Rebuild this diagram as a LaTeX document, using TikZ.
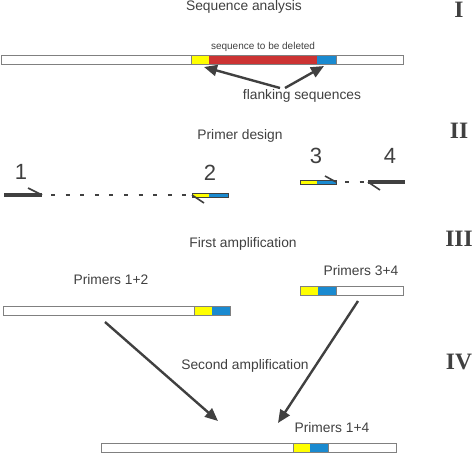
\documentclass[tikz,border=0pt]{standalone}
\usepackage{fontspec}
\setmainfont{Liberation Sans}
\newfontfamily\romfont{Liberation Serif}
\usetikzlibrary{arrows.meta}
\definecolor{ink}{HTML}{404040}
\definecolor{dnayel}{HTML}{FFFF00}
\definecolor{dnared}{HTML}{CC3333}
\definecolor{dnablue}{HTML}{1A8AD0}
\definecolor{rim}{HTML}{808080}
\tikzset{
  lbl/.style={text=ink,inner sep=0pt,anchor=base,font=\fontsize{13.8}{16}\selectfont},
  smalllbl/.style={text=ink,inner sep=0pt,anchor=base,font=\fontsize{10}{12}\selectfont},
  numlbl/.style={text=ink,inner sep=0pt,anchor=base,font=\fontsize{22}{24}\selectfont},
  romlbl/.style={text=ink,inner sep=0pt,anchor=base,font=\romfont\bfseries\fontsize{23.5}{26}\selectfont},
  strand/.style={draw=rim,line width=0.8pt,fill=white},
  seg/.style={draw=rim,line width=0.6pt},
  bigarrow/.style={draw=ink,line width=2.4pt,-{Triangle[length=13pt,width=11pt]}},
  primerline/.style={draw=ink,line width=3.5pt},
  halfhead/.style={draw=ink,line width=1.6pt},
  gap/.style={draw=ink,line width=2pt,dash pattern=on 4pt off 10.6pt}
}
\begin{document}
\begin{tikzpicture}[x=1pt,y=-1pt]
\useasboundingbox (0,0) rectangle (474,453);
% ---------- I ----------
\node[lbl] (t1) at (244,10) {Sequence analysis};
\node[romlbl] (r1) at (459,17) {I};
\node[smalllbl] (del) at (263,49) {sequence to be deleted};
\draw[strand] (1,55) rectangle (403,64);
\fill[dnayel] (191,55) rectangle (209,64);
\fill[dnared] (209,55) rectangle (317,64);
\fill[dnablue] (317,55) rectangle (336,64);
\draw[seg] (191,55) rectangle (336,64);
\coordinate (yel1) at (204,67);
\coordinate (blu1) at (324,66);
\node[lbl] (flank) at (302,99) {flanking sequences};
\coordinate (fa) at (280,88);
\coordinate (fb) at (285,88);
\draw[bigarrow] (fa) -- (yel1);
\draw[bigarrow] (fb) -- (blu1);
% ---------- II ----------
\node[lbl] (t2) at (240,139) {Primer design};
\node[romlbl] (r2) at (459,138) {II};
\node[numlbl] (n1) at (21,179) {1};
\node[numlbl] (n2) at (210,180) {2};
\node[numlbl] (n3) at (316,163) {3};
\node[numlbl] (n4) at (390,163) {4};
% primer 1
\coordinate (p1s) at (4,195);
\coordinate (p1e) at (42,195);
\coordinate (p1h) at (28,188);
\draw[primerline] (p1s) -- (p1e);
\draw[halfhead] (p1h) -- (p1e);
\coordinate (g1s) at (51,195);
\coordinate (g1e) at (190,195);
\draw[gap] (g1s) -- (g1e);
% primer 2
\fill[dnayel] (192,193) rectangle (209,197);
\fill[dnablue] (209,193) rectangle (228,197);
\draw[draw=ink,line width=0.6pt] (192,193) rectangle (228,197);
\coordinate (p2e) at (192,195);
\coordinate (p2h) at (204,203);
\draw[halfhead] (p2e) -- (p2h);
% primer 3
\fill[dnayel] (300,180.5) rectangle (317,184);
\fill[dnablue] (317,180.5) rectangle (336,184);
\draw[draw=ink,line width=0.6pt] (300,180.5) rectangle (336,184);
\coordinate (p3h) at (325,176);
\coordinate (p3e) at (336,182);
\draw[halfhead] (p3h) -- (p3e);
\coordinate (g2s) at (345,182);
\coordinate (g2e) at (366,182);
\draw[gap] (g2s) -- (g2e);
% primer 4
\coordinate (p4s) at (368,182);
\coordinate (p4e) at (405,182);
\coordinate (p4h) at (380,190);
\draw[primerline] (p4s) -- (p4e);
\draw[halfhead] (p4s) -- (p4h);
% ---------- III ----------
\node[lbl] (t3) at (243,247) {First amplification};
\node[romlbl] (r3) at (459,246) {III};
\node[lbl] (pr12) at (111,284) {Primers 1+2};
\draw[strand] (3,306) rectangle (230,315);
\fill[dnayel] (194,306) rectangle (212,315);
\fill[dnablue] (212,306) rectangle (230,315);
\draw[seg] (194,306) rectangle (230,315);
\node[lbl] (pr34) at (361,275) {Primers 3+4};
\draw[strand] (300,286) rectangle (403,295);
\fill[dnayel] (300,286) rectangle (318,295);
\fill[dnablue] (318,286) rectangle (336,295);
\draw[seg] (300,286) rectangle (336,295);
% ---------- IV ----------
\coordinate (a1s) at (105,322);
\coordinate (a1e) at (218,421);
\coordinate (a2s) at (358,301);
\coordinate (a2e) at (278,423);
\draw[bigarrow] (a1s) -- (a1e);
\draw[bigarrow] (a2s) -- (a2e);
\node[lbl] (t4) at (245,369) {Second amplification};
\node[romlbl] (r4) at (459,369) {IV};
\node[lbl] (pr14) at (332,432) {Primers 1+4};
\draw[strand] (101,443) rectangle (396,452.5);
\fill[dnayel] (293,443) rectangle (310,452.5);
\fill[dnablue] (310,443) rectangle (328,452.5);
\draw[seg] (293,443) rectangle (328,452.5);
\end{tikzpicture}
\end{document}
